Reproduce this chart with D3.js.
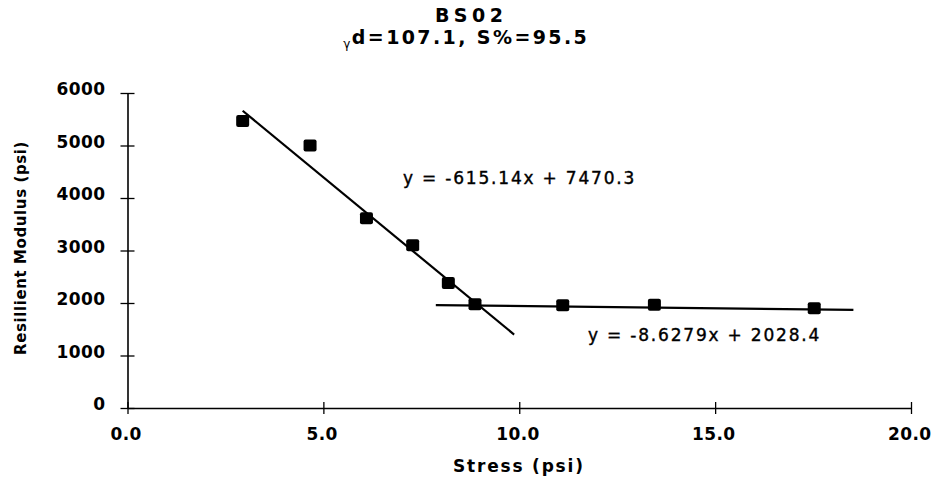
<!DOCTYPE html>
<html>
<head>
<meta charset="utf-8">
<script src="https://cdn.jsdelivr.net/npm/d3@7"></script>
<style>
  html, body { margin: 0; padding: 0; background: #fff; }
  svg { display: block; }
  text { font-family: "DejaVu Sans", Verdana, sans-serif; fill: #000; }
</style>
</head>
<body>
<svg id="chart" width="934" height="480"></svg>
<script>
// Resilient modulus vs. deviator stress, sample BS02
const stress  = [2.94, 4.66, 6.10, 7.28, 8.19, 8.87, 11.11, 13.45, 17.53];
const modulus = [5467, 4998, 3615, 3101, 2381, 1977, 1958, 1968, 1901];

// Linear trendlines (slope, intercept, x-extent)
const fitSlopes     = [-615.14, -8.6279];
const fitIntercepts = [7470.3, 2028.4];
const fitFrom       = [2.94, 7.87];
const fitTo         = [9.87, 18.53];
const fitLabels     = ["y = -615.14x + 7470.3", "y = -8.6279x + 2028.4"];

const xTickValues = [0, 5, 10, 15, 20];
const yTickValues = [0, 1000, 2000, 3000, 4000, 5000, 6000];
const xTickLabels = ["0.0", "5.0", "10.0", "15.0", "20.0"];
const yTickLabels = ["0", "1000", "2000", "3000", "4000", "5000", "6000"];

const titleText = "BS02";
const subtitleSymbol = "γ";
const subtitleText = "d=107.1, S%=95.5";
const xTitle = "Stress (psi)";
const yTitle = "Resillient Modulus (psi)";

const svg = d3.select("#chart");

const x = d3.scaleLinear().domain([0, 20]).range([127.5, 911]);
const y = d3.scaleLinear().domain([0, 6000]).range([408, 93]);

// Axes: ticks cross the axis line
const xAxis = d3.axisBottom(x).tickValues(xTickValues).tickSizeOuter(0).tickFormat(() => "");
const yAxis = d3.axisLeft(y).tickValues(yTickValues).tickSizeOuter(0).tickFormat(() => "");

const gx = svg.append("g").attr("transform", `translate(0,${y(0)})`).call(xAxis);
const gy = svg.append("g").attr("transform", `translate(${x(0)},0)`).call(yAxis);

gx.select(".domain").attr("stroke", "#000").attr("stroke-width", 1.6);
gy.select(".domain").attr("stroke", "#000").attr("stroke-width", 1.6);
gx.selectAll(".tick line").attr("y1", -6).attr("y2", 6).attr("stroke", "#000").attr("stroke-width", 1.3);
gy.selectAll(".tick line").attr("x1", -7).attr("x2", 7).attr("stroke", "#000").attr("stroke-width", 1.3);

// Tick labels
const tickFont = { size: 17, ls: 0.4 };
svg.append("g").selectAll("text").data(xTickValues).join("text")
  .attr("x", (d) => x(d) - 1.5 + tickFont.ls / 2)
  .attr("y", 440)
  .attr("text-anchor", "middle")
  .attr("font-size", tickFont.size)
  .attr("font-weight", "bold")
  .attr("letter-spacing", tickFont.ls)
  .text((d, i) => xTickLabels[i]);

svg.append("g").selectAll("text").data(yTickValues).join("text")
  .attr("x", 105 + tickFont.ls)
  .attr("y", (d) => y(d) + 2)
  .attr("text-anchor", "end")
  .attr("font-size", tickFont.size)
  .attr("font-weight", "bold")
  .attr("letter-spacing", tickFont.ls)
  .text((d, i) => yTickLabels[i]);

// Axis titles
svg.append("text")
  .attr("x", 518 + 0.9)
  .attr("y", 472)
  .attr("text-anchor", "middle")
  .attr("font-size", 17)
  .attr("font-weight", "bold")
  .attr("letter-spacing", 1.8)
  .text(xTitle);

svg.append("text")
  .attr("transform", "translate(26,248) rotate(-90)")
  .attr("text-anchor", "middle")
  .attr("font-size", 15)
  .attr("font-weight", "bold")
  .attr("letter-spacing", 0.6)
  .text(yTitle);

// Title
svg.append("text")
  .attr("x", 469 + 2.2)
  .attr("y", 22)
  .attr("text-anchor", "middle")
  .attr("font-size", 19)
  .attr("font-weight", "bold")
  .attr("letter-spacing", 4.5)
  .text(titleText);

const sub = svg.append("text")
  .attr("x", 465 + 1.2)
  .attr("y", 44)
  .attr("text-anchor", "middle")
  .attr("font-weight", "bold")
  .attr("font-size", 19)
  .attr("letter-spacing", 2.4);
sub.append("tspan").attr("font-size", 12).attr("font-weight", "normal").attr("dy", 4).attr("letter-spacing", 1.5).text(subtitleSymbol);
sub.append("tspan").attr("dy", -4).text(subtitleText);

// Trendlines
const fits = fitSlopes.map((m, i) => ({ m, b: fitIntercepts[i], x0: fitFrom[i], x1: fitTo[i] }));
svg.append("g").selectAll("line").data(fits).join("line")
  .attr("x1", (d) => x(d.x0))
  .attr("y1", (d) => y(d.m * d.x0 + d.b))
  .attr("x2", (d) => x(d.x1))
  .attr("y2", (d) => y(d.m * d.x1 + d.b))
  .attr("stroke", "#000")
  .attr("stroke-width", 2.2);

// Trendline equations
const eqPos = [[403, 184], [588, 341]];
svg.append("g").selectAll("text").data(fitLabels).join("text")
  .attr("x", (d, i) => eqPos[i][0])
  .attr("y", (d, i) => eqPos[i][1])
  .attr("font-size", 17)
  .attr("letter-spacing", 1.8)
  .attr("stroke", "#000")
  .attr("stroke-width", 0.4)
  .text((d) => d);

// Data markers
const pts = stress.map((s, i) => ({ s, m: modulus[i] }));
const mw = 13, mh = 12;
svg.append("g").selectAll("rect").data(pts).join("rect")
  .attr("x", (d) => x(d.s) - mw / 2)
  .attr("y", (d) => y(d.m) - mh / 2)
  .attr("width", mw)
  .attr("height", mh)
  .attr("rx", 2)
  .attr("fill", "#000");
</script>
</body>
</html>
